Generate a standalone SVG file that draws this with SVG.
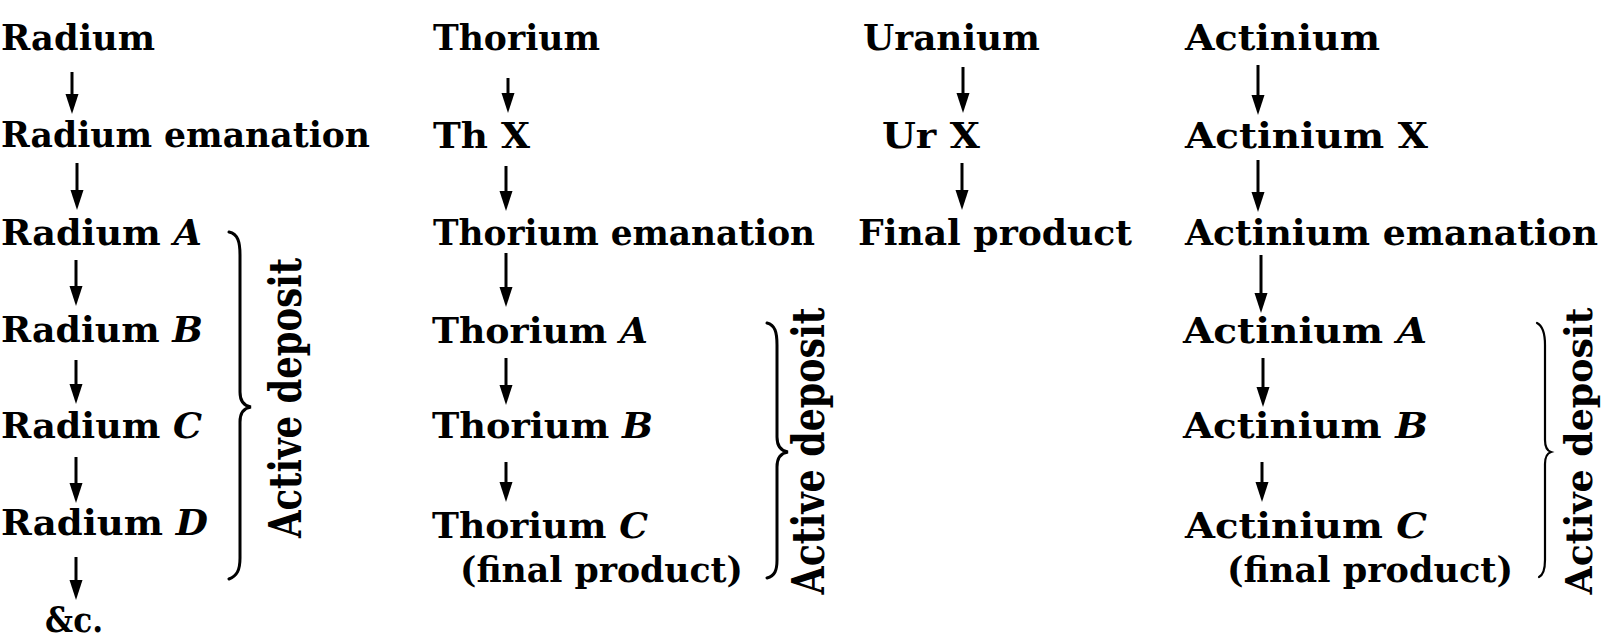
<svg xmlns="http://www.w3.org/2000/svg" width="1602" height="637" viewBox="0 0 1602 637">
<style>
.t{font-family:"DejaVu Serif","Liberation Serif",serif;font-weight:bold;font-size:36px;fill:#000}
.i{font-style:italic}
.ad{font-family:"DejaVu Serif","Liberation Serif",serif;font-weight:bold;font-size:44px;fill:#000;text-anchor:middle}
.ar{stroke:#000;stroke-width:3;fill:none;marker-end:url(#ah)}
.br{stroke:#000;stroke-width:3;fill:none;stroke-linecap:round}
</style>
<defs>
<marker id="ah" markerUnits="userSpaceOnUse" viewBox="0 0 20 14" markerWidth="20" markerHeight="14" refX="13" refY="7" orient="auto">
<path d="M0,0.5 L20,7 L0,13.5 z" fill="#000"/>
</marker>
</defs>
<rect width="1602" height="637" fill="#fff"/>

<g id="connectors">
<line class="ar" x1="72" y1="72" x2="72" y2="107"/>
<line class="ar" x1="77" y1="163" x2="77" y2="203"/>
<line class="ar" x1="76" y1="260" x2="76" y2="299"/>
<line class="ar" x1="76" y1="360" x2="76" y2="397"/>
<line class="ar" x1="76" y1="457" x2="76" y2="496"/>
<line class="ar" x1="76" y1="557" x2="76" y2="593"/>

<line class="ar" x1="508" y1="78" x2="508" y2="106"/>
<line class="ar" x1="506" y1="166" x2="506" y2="204"/>
<line class="ar" x1="506" y1="253" x2="506" y2="300"/>
<line class="ar" x1="506" y1="358" x2="506" y2="398"/>
<line class="ar" x1="506" y1="462" x2="506" y2="495"/>

<line class="ar" x1="963" y1="67" x2="963" y2="106"/>
<line class="ar" x1="962" y1="163" x2="962" y2="203"/>

<line class="ar" x1="1258" y1="65" x2="1258" y2="108"/>
<line class="ar" x1="1258" y1="160" x2="1258" y2="205"/>
<line class="ar" x1="1261" y1="255" x2="1261" y2="306"/>
<line class="ar" x1="1263" y1="358" x2="1263" y2="400"/>
<line class="ar" x1="1262" y1="462" x2="1262" y2="495"/>
</g>

<g id="radium-col">
<g id="radium"><text class="t" x="1" y="50" textLength="154" lengthAdjust="spacingAndGlyphs">Radium</text></g>
<g id="radium-emanation"><text class="t" x="1" y="147" textLength="369" lengthAdjust="spacingAndGlyphs">Radium emanation</text></g>
<g id="radium-a"><text class="t" x="1" y="245" textLength="201" lengthAdjust="spacingAndGlyphs">Radium <tspan class="i">A</tspan></text></g>
<g id="radium-b"><text class="t" x="1" y="342" textLength="202" lengthAdjust="spacingAndGlyphs">Radium <tspan class="i">B</tspan></text></g>
<g id="radium-c"><text class="t" x="1" y="438" textLength="201" lengthAdjust="spacingAndGlyphs">Radium <tspan class="i">C</tspan></text></g>
<g id="radium-d"><text class="t" x="1" y="535" textLength="207" lengthAdjust="spacingAndGlyphs">Radium <tspan class="i">D</tspan></text></g>
<g id="radium-etc"><text class="t" x="45" y="632" textLength="58" lengthAdjust="spacingAndGlyphs">&amp;c.</text></g>
<g id="radium-deposit">
<path class="br" d="M229,232 C238,234 240,242 240,255 L240,392 C240,402 244,406 251,407 C244,408 240,412 240,422 L240,558 C240,570 237,576 229,579"/>
<text class="ad" transform="translate(301,398) rotate(-90)" textLength="280" lengthAdjust="spacingAndGlyphs">Active deposit</text>
</g>
</g>

<g id="thorium-col">
<g id="thorium"><text class="t" x="433" y="50" textLength="167" lengthAdjust="spacingAndGlyphs">Thorium</text></g>
<g id="th-x"><text class="t" x="433" y="148" textLength="97" lengthAdjust="spacingAndGlyphs">Th X</text></g>
<g id="thorium-emanation"><text class="t" x="433" y="245" textLength="382" lengthAdjust="spacingAndGlyphs">Thorium emanation</text></g>
<g id="thorium-a"><text class="t" x="432" y="343" textLength="216" lengthAdjust="spacingAndGlyphs">Thorium <tspan class="i">A</tspan></text></g>
<g id="thorium-b"><text class="t" x="432" y="438" textLength="221" lengthAdjust="spacingAndGlyphs">Thorium <tspan class="i">B</tspan></text></g>
<g id="thorium-c"><text class="t" x="432" y="538" textLength="216" lengthAdjust="spacingAndGlyphs">Thorium <tspan class="i">C</tspan></text>
<text class="t" x="460" y="582" textLength="283" lengthAdjust="spacingAndGlyphs">(final product)</text></g>
<g id="thorium-deposit">
<path class="br" d="M767,323 C775,325 777,332 777,345 L777,437 C777,447 781,451 788,452 C781,453 777,457 777,467 L777,560 C777,570 775,576 767,578"/>
<text class="ad" transform="translate(824,451) rotate(-90)" textLength="287" lengthAdjust="spacingAndGlyphs">Active deposit</text>
</g>
</g>

<g id="uranium-col">
<g id="uranium"><text class="t" x="863" y="50" textLength="177" lengthAdjust="spacingAndGlyphs">Uranium</text></g>
<g id="ur-x"><text class="t" x="882" y="148" textLength="98" lengthAdjust="spacingAndGlyphs">Ur X</text></g>
<g id="final-product"><text class="t" x="858" y="245" textLength="274" lengthAdjust="spacingAndGlyphs">Final product</text></g>
</g>

<g id="actinium-col">
<g id="actinium"><text class="t" x="1185" y="50" textLength="195" lengthAdjust="spacingAndGlyphs">Actinium</text></g>
<g id="actinium-x"><text class="t" x="1185" y="148" textLength="243" lengthAdjust="spacingAndGlyphs">Actinium X</text></g>
<g id="actinium-emanation"><text class="t" x="1185" y="245" textLength="413" lengthAdjust="spacingAndGlyphs">Actinium emanation</text></g>
<g id="actinium-a"><text class="t" x="1183" y="343" textLength="244" lengthAdjust="spacingAndGlyphs">Actinium <tspan class="i">A</tspan></text></g>
<g id="actinium-b"><text class="t" x="1183" y="438" textLength="245" lengthAdjust="spacingAndGlyphs">Actinium <tspan class="i">B</tspan></text></g>
<g id="actinium-c"><text class="t" x="1185" y="538" textLength="242" lengthAdjust="spacingAndGlyphs">Actinium <tspan class="i">C</tspan></text>
<text class="t" x="1227" y="582" textLength="286" lengthAdjust="spacingAndGlyphs">(final product)</text></g>
<g id="actinium-deposit">
<path class="br" style="stroke-width:2.2" d="M1537,323 C1543,326 1545,333 1545,345 L1545,440 C1545,447 1548,451 1551,452 C1548,453 1545,457 1545,464 L1545,560 C1545,570 1543,575 1539,577"/>
<text class="ad" style="font-size:38px" transform="translate(1592,451) rotate(-90)" textLength="287" lengthAdjust="spacingAndGlyphs">Active deposit</text>
</g>
</g>
</svg>
